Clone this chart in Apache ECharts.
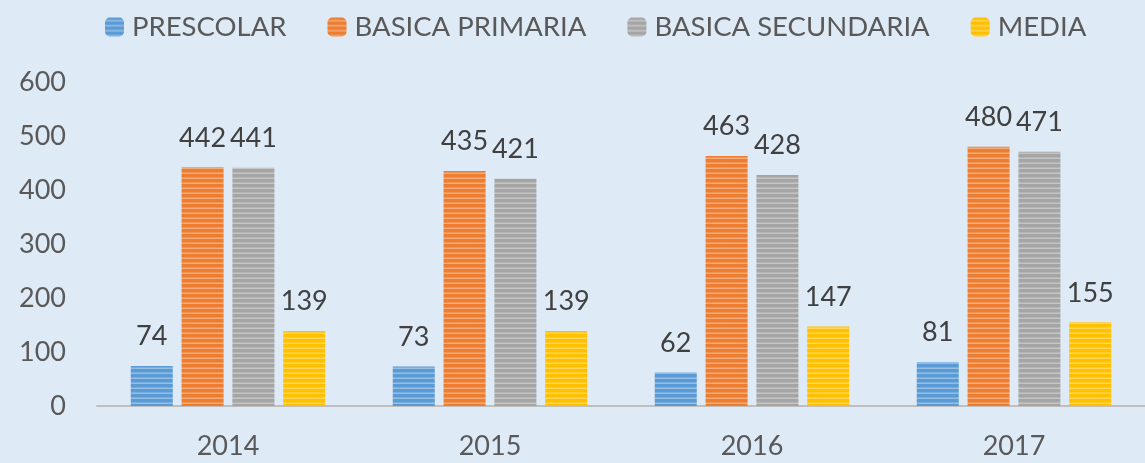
<!DOCTYPE html>
<html><head><meta charset="utf-8">
<script src="https://cdn.jsdelivr.net/npm/echarts@6/dist/echarts.min.js"></script>
<style>html,body{margin:0;padding:0;background:#DEEAF6;}#c{width:1145px;height:463px;}</style>
</head><body><div id="c"></div>
<script>
const categories = ['2014','2015','2016','2017'];
const seriesNames = ['PRESCOLAR','BASICA PRIMARIA','BASICA SECUNDARIA','MEDIA'];
const prescolar = [74,73,62,81];
const basicaPrimaria = [442,435,463,480];
const basicaSecundaria = [441,421,428,471];
const media = [139,139,147,155];
const yTicks = [0,100,200,300,400,500,600];

const baseColors = ['#5B9BD5','#ED7D31','#A5A5A5','#FFC000'];
function mix(hex, t){
  const r=parseInt(hex.slice(1,3),16),g=parseInt(hex.slice(3,5),16),b=parseInt(hex.slice(5,7),16);
  const m=v=>Math.round(v+(255-v)*t);
  return 'rgb('+m(r)+','+m(g)+','+m(b)+')';
}
function stripe(hex){
  const c=document.createElement('canvas'); c.width=4; c.height=5;
  const x=c.getContext('2d');
  x.fillStyle=hex; x.fillRect(0,0,4,5);
  x.fillStyle=mix(hex,0.35); x.fillRect(0,3,4,1);
  x.fillStyle=mix(hex,0.18); x.fillRect(0,2,4,1);
  return {image:c, repeat:'repeat'};
}
const allData=[prescolar,basicaPrimaria,basicaSecundaria,media];
const chart=echarts.init(document.getElementById('c'));
chart.setOption({
  backgroundColor:'#DEEAF6',
  animation:false,
  textStyle:{fontFamily:'Lato'},
  legend:{
    top:8, left:100, itemWidth:19, itemHeight:19, itemGap:41,
    textStyle:{fontSize:27.5,color:'#595959',fontFamily:'Lato',padding:[0,0,0,3]},
    data:seriesNames
  },
  grid:{left:97,right:0,top:82,bottom:57},
  xAxis:{
    type:'category', data:categories,
    axisLine:{lineStyle:{color:'#BFBFBF',width:2}},
    axisTick:{show:false},
    axisLabel:{fontSize:27,color:'#595959',margin:27,fontFamily:'Lato'}
  },
  yAxis:{
    type:'value', min:0, max:600, interval:100,
    axisLine:{show:false}, axisTick:{show:false}, splitLine:{show:false},
    axisLabel:{fontSize:27,color:'#595959',margin:31,fontFamily:'Lato'}
  },
  series:seriesNames.map((n,i)=>({
    name:n, type:'bar', data:allData[i], barWidth:42, barGap:'21%',
    itemStyle:{color:stripe(baseColors[i])},
    label:{show:true,position:'top',distance:16,fontSize:27,color:'#404040',fontFamily:'Lato'}
  }))
});
</script></body></html>
